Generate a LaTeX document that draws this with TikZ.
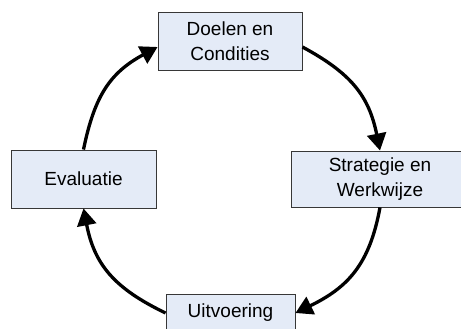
\documentclass[tikz,border=0pt]{standalone}
\usepackage{fontspec}
\setmainfont{Liberation Sans}
\usetikzlibrary{arrows.meta}
\definecolor{boxfill}{RGB}{228,235,247}
\definecolor{boxline}{RGB}{55,55,55}
\begin{document}
\begin{tikzpicture}[x=1pt,y=1pt,
  box/.style={draw=boxline, line width=0.9pt, fill=boxfill, align=center,
    font=\fontsize{19}{25}\selectfont, inner sep=0pt},
  cyc/.style={line width=3.3pt, -{Triangle[length=17pt,width=19pt]}}]
\useasboundingbox (0,0) rectangle (461,329);
\begin{scope}
\clip (0,0) rectangle (461,329);
\node[box, minimum width=144pt, minimum height=58pt] (top) at (230,288) {Doelen en\\Condities};
\node[box, minimum width=178pt, minimum height=56pt] (right) at (380,150) {Strategie en\\Werkwijze};
\node[box, minimum width=145pt, minimum height=58pt] (left) at (83.5,150) {Evaluatie};
\node[box, minimum width=129pt, minimum height=38pt] (bottom) at (230.5,16) {Uitvoering};
\draw[cyc] ([yshift=-6pt]top.east) to[out=-28.4,in=101.5,looseness=1.1] (right.north);
\draw[cyc] (right.south) to[out=-100.4,in=26,looseness=1.1] (bottom.east);
\draw[cyc] (bottom.west) to[out=154.3,in=-79,looseness=1.1] (left.south);
\draw[cyc] (left.north) to[out=78.4,in=208.4,looseness=1.1] ([yshift=-6pt]top.west);
\end{scope}
\end{tikzpicture}
\end{document}
